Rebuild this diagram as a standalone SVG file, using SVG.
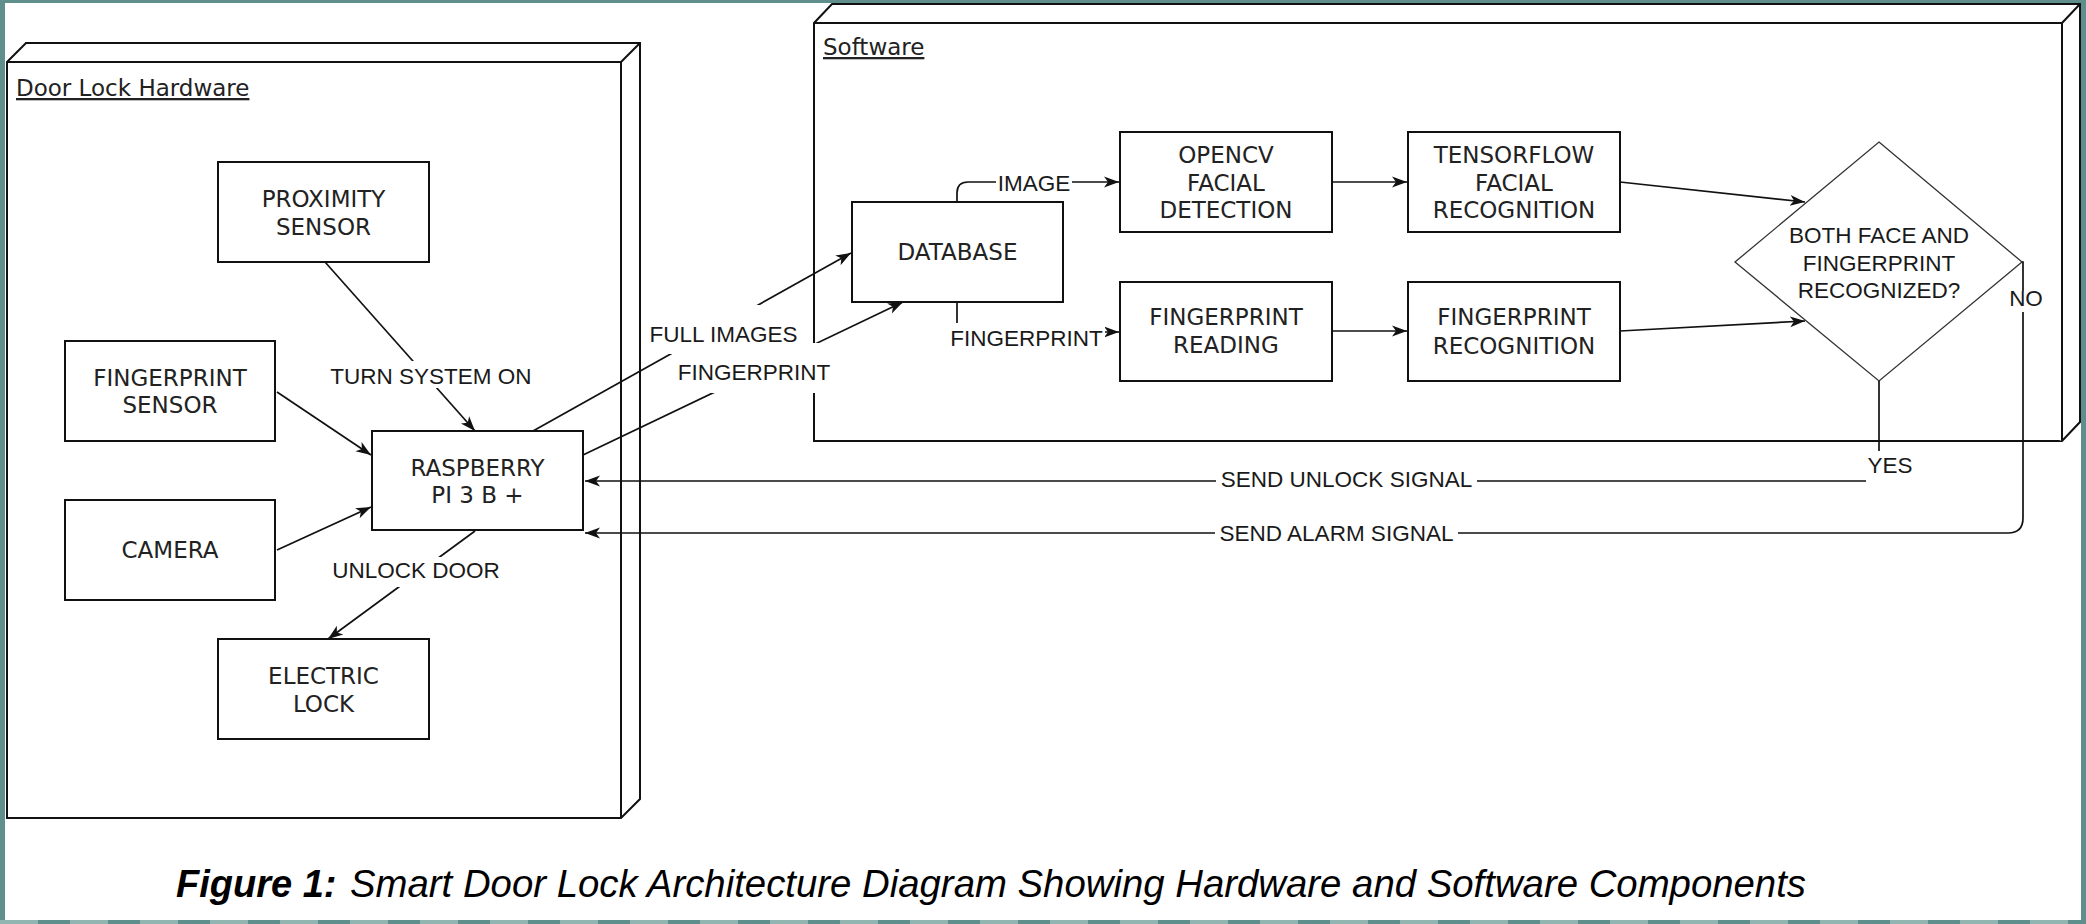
<svg xmlns="http://www.w3.org/2000/svg" width="2086" height="924" viewBox="0 0 2086 924">
<style>
.box{fill:#fff;stroke:#111;stroke-width:2}
.cube{fill:#fff;stroke:#111;stroke-width:2;stroke-linejoin:miter}
.bt{font-family:"DejaVu Sans",sans-serif;font-size:23px;fill:#222;text-anchor:middle}
.ct{font-family:"DejaVu Sans",sans-serif;font-size:23px;fill:#222;text-decoration:underline}
.lt{font-family:"Liberation Sans",Arial,sans-serif;font-size:22.5px;fill:#1a1a1a;text-anchor:middle}
.dt{font-family:"Liberation Sans",Arial,sans-serif;font-size:22.5px;fill:#1a1a1a;text-anchor:middle}
.e{fill:none;stroke:#111;stroke-width:1.7}
.ea{fill:none;stroke:#111;stroke-width:1.7;marker-end:url(#arr)}
.lb{fill:#fff;stroke:none}
.cap{font-family:"Liberation Sans",Arial,sans-serif;font-size:38px;font-style:italic;fill:#000}
</style>
<defs>
<marker id="arr" markerUnits="userSpaceOnUse" viewBox="0 0 16 14" refX="15" refY="7" markerWidth="16" markerHeight="14" orient="auto">
<path d="M0,1.5 L15,7 L0,12.5 L4,7 Z" fill="#111"/>
</marker>
</defs>
<rect x="0" y="0" width="2086" height="924" fill="#5f8f8c"/>
<line x1="0" y1="922" x2="2086" y2="922" stroke="#93b5b2" stroke-width="4" stroke-dasharray="38 32"/>
<rect x="5" y="3" width="2076" height="917" fill="#fff"/>

<g id="hardware-container">
<path class="cube" d="M7,62 L26,43 L640,43 L640,799 L621,818 L7,818 Z"/>
<path class="cube" d="M7,62 L621,62 L621,818 M621,62 L640,43" fill="none"/>
<text class="ct" x="16" y="96">Door Lock Hardware</text>
</g>
<g id="software-container">
<path class="cube" d="M814,23 L832,4 L2080,4 L2080,422 L2062,441 L814,441 Z"/>
<path class="cube" d="M814,23 L2062,23 L2062,441 M2062,23 L2080,4" fill="none"/>
<text class="ct" x="823" y="55">Software</text>
</g>

<g id="proximity-sensor">
<rect class="box" x="218" y="162" width="211" height="100"/>
<text class="bt" x="323.5" y="207">PROXIMITY</text>
<text class="bt" x="323.5" y="235">SENSOR</text>
</g>
<g id="fingerprint-sensor">
<rect class="box" x="65" y="341" width="210" height="100"/>
<text class="bt" x="170" y="386">FINGERPRINT</text>
<text class="bt" x="170" y="413">SENSOR</text>
</g>
<g id="camera">
<rect class="box" x="65" y="500" width="210" height="100"/>
<text class="bt" x="170" y="558">CAMERA</text>
</g>
<g id="raspberry-pi">
<rect class="box" x="372" y="431" width="211" height="99"/>
<text class="bt" x="477.5" y="476">RASPBERRY</text>
<text class="bt" x="477.5" y="503">PI 3 B +</text>
</g>
<g id="electric-lock">
<rect class="box" x="218" y="639" width="211" height="100"/>
<text class="bt" x="323.5" y="684">ELECTRIC</text>
<text class="bt" x="323.5" y="712">LOCK</text>
</g>
<g id="database">
<rect class="box" x="852" y="202" width="211" height="100"/>
<text class="bt" x="957.5" y="260">DATABASE</text>
</g>
<g id="opencv">
<rect class="box" x="1120" y="132" width="212" height="100"/>
<text class="bt" x="1226" y="163">OPENCV</text>
<text class="bt" x="1226" y="191">FACIAL</text>
<text class="bt" x="1226" y="218">DETECTION</text>
</g>
<g id="fingerprint-reading">
<rect class="box" x="1120" y="282" width="212" height="99"/>
<text class="bt" x="1226" y="325">FINGERPRINT</text>
<text class="bt" x="1226" y="353">READING</text>
</g>
<g id="tensorflow">
<rect class="box" x="1408" y="132" width="212" height="100"/>
<text class="bt" x="1514" y="163">TENSORFLOW</text>
<text class="bt" x="1514" y="191">FACIAL</text>
<text class="bt" x="1514" y="218">RECOGNITION</text>
</g>
<g id="fingerprint-recognition">
<rect class="box" x="1408" y="282" width="212" height="99"/>
<text class="bt" x="1514" y="325">FINGERPRINT</text>
<text class="bt" x="1514" y="354">RECOGNITION</text>
</g>
<g id="decision">
<polygon points="1879,142 2022,262 1879,381 1735,262" fill="#fff" stroke="#333" stroke-width="1.3"/>
<text class="dt" x="1879" y="243">BOTH FACE AND</text>
<text class="dt" x="1879" y="271">FINGERPRINT</text>
<text class="dt" x="1879" y="298">RECOGNIZED?</text>
</g>

<g id="connectors">
<path class="ea" d="M325,262 L475,431"/>
<path class="ea" d="M277,392 L371,455"/>
<path class="ea" d="M277,550 L371,507"/>
<path class="ea" d="M475,531 L328,639"/>
<path class="ea" d="M533,431 L851,253"/>
<path class="ea" d="M583,455 L903,302"/>
<path class="ea" d="M957,202 V193 Q957,182 968,182 H1119"/>
<path class="ea" d="M957,302 V332 H1119"/>
<path class="ea" d="M1332,182 H1407"/>
<path class="ea" d="M1332,331 H1407"/>
<path class="ea" d="M1620,182 L1805,202"/>
<path class="ea" d="M1620,331 L1805,321"/>
<path class="ea" d="M1879,381 V481 H585"/>
<path class="ea" d="M2022,262 H2023 V518 Q2023,533 2008,533 H585"/>

<rect class="lb" x="327" y="361" width="208" height="27"/>
<text class="lt" x="431" y="384">TURN SYSTEM ON</text>
<rect class="lb" x="329" y="557" width="174" height="30"/>
<text class="lt" x="416" y="578">UNLOCK DOOR</text>
<rect class="lb" x="646" y="305" width="155" height="49"/>
<text class="lt" x="723.5" y="342">FULL IMAGES</text>
<rect class="lb" x="674" y="343" width="160" height="50"/>
<text class="lt" x="754" y="380">FINGERPRINT</text>
<rect class="lb" x="996" y="170" width="76" height="26"/>
<text class="lt" x="1034" y="191">IMAGE</text>
<rect class="lb" x="947" y="323" width="158" height="28"/>
<text class="lt" x="1026.5" y="346">FINGERPRINT</text>
<rect class="lb" x="1866" y="451" width="48" height="32"/>
<text class="lt" x="1890" y="473">YES</text>
<rect class="lb" x="2007" y="291" width="38" height="21"/>
<text class="lt" x="2026" y="306">NO</text>
<rect class="lb" x="1216" y="467" width="261" height="24"/>
<text class="lt" x="1346.5" y="487">SEND UNLOCK SIGNAL</text>
<rect class="lb" x="1215" y="521" width="243" height="24"/>
<text class="lt" x="1336.5" y="541">SEND ALARM SIGNAL</text>
</g>

<text class="cap" x="176" y="897" font-weight="bold">Figure 1:</text>
<text class="cap" x="350" y="897" textLength="1456" lengthAdjust="spacingAndGlyphs">Smart Door Lock Architecture Diagram Showing Hardware and Software Components</text>
</svg>
